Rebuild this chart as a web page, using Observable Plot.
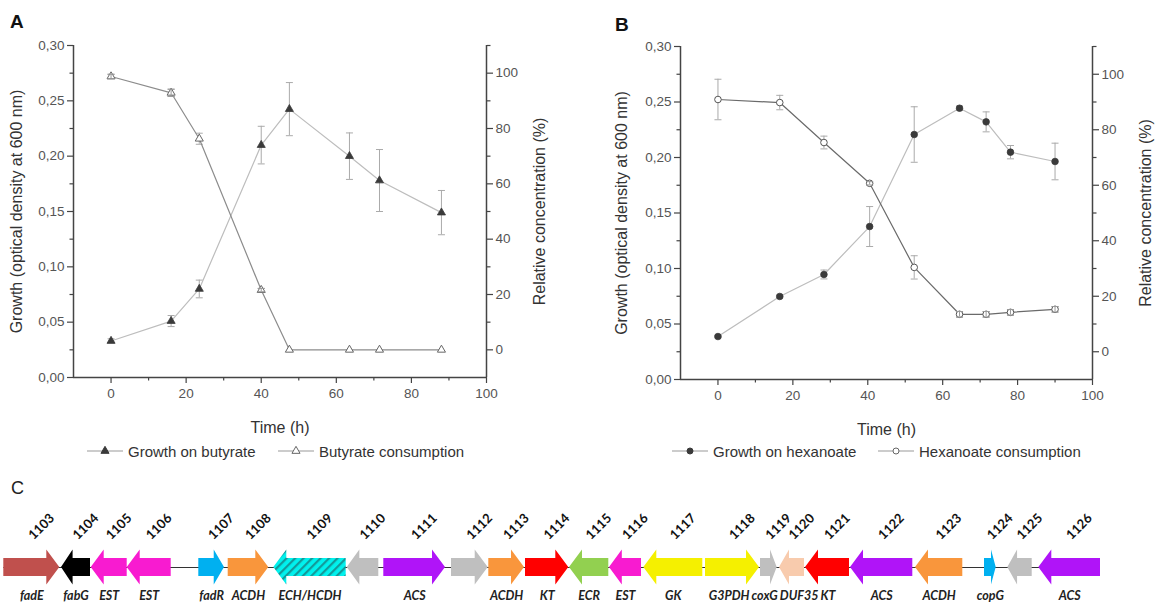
<!DOCTYPE html>
<html><head><meta charset="utf-8">
<script src="https://cdn.jsdelivr.net/npm/d3@7"></script>
<script src="https://cdn.jsdelivr.net/npm/@observablehq/plot@0.6"></script>
<style>
body{margin:0;background:#fff;}
#root{position:relative;width:1157px;height:604px;overflow:hidden;font-family:"Liberation Sans",Arial,sans-serif;background:#fff;}
.legend{position:absolute;display:flex;align-items:center;font-size:15px;color:#333;white-space:nowrap;height:18px;}
.letter{position:absolute;font-size:19px;line-height:1;color:#111;}
</style></head><body><div id="root"></div>
<script>
// ---------- Panel A data (butyrate) ----------
const timeA = [0, 16, 23.5, 40, 47.5, 63.5, 71.5, 88];
const growthA = [0.033, 0.051, 0.080, 0.210, 0.2425, 0.200, 0.178, 0.149];
const growthAErr = [0.002, 0.005, 0.008, 0.017, 0.024, 0.021, 0.028, 0.020];
const consumptionA = [98.8, 92.9, 76.3, 21.6, 0, 0, 0, 0];
const consumptionAErr = [0.8, 1.3, 2.0, 0.6, 0, 0, 0, 0];

// ---------- Panel B data (hexanoate) ----------
const timeB = [0, 16.5, 28.3, 40.5, 52.4, 64.5, 71.6, 78.1, 90];
const growthB = [0.0387, 0.0748, 0.0946, 0.1378, 0.2207, 0.2444, 0.2321, 0.2048, 0.1964];
const growthBErr = [0.001, 0.001, 0.004, 0.018, 0.025, 0.002, 0.009, 0.006, 0.0165];
const consumptionB = [90.9, 89.8, 75.4, 60.7, 30.4, 13.5, 13.5, 14.2, 15.3];
const consumptionBErr = [7.3, 2.6, 2.3, 0.6, 4.2, 1.0, 1.0, 1.0, 1.0];

// ---------- Axis ticks ----------
const leftTicks = [0, 0.05, 0.10, 0.15, 0.20, 0.25, 0.30];
const leftMinor = [0.025, 0.075, 0.125, 0.175, 0.225, 0.275];
const rightTicks = [0, 20, 40, 60, 80, 100];
const rightMinor = [10, 30, 50, 70, 90, 110];
const timeTicks = [0, 20, 40, 60, 80, 100];
const timeMinor = [10, 30, 50, 70, 90];

// ---------- Panel C data (gene cluster) ----------
const geneIds = ["1103","1104","1105","1106","1107","1108","1109","1110","1111","1112","1113","1114","1115","1116","1117","1118","1119","1120","1121","1122","1123","1124","1125","1126"];
const geneNames = ["fadE","fabG","EST","EST","fadR","ACDH","ECH/HCDH","","ACS","","ACDH","KT","ECR","EST","GK","G3PDH","coxG","DUF35","KT","ACS","ACDH","copG","","ACS"];
const geneStart = [3.3, 61, 90.7, 126.7, 198.3, 227.7, 273.3, 346.7, 383.3, 451, 488.3, 525, 569, 609, 643.3, 705, 760, 779, 805, 850, 915, 984, 1007.3, 1038.3];
const geneEnd = [59.3, 90, 126.7, 170.7, 224, 268.3, 345.7, 378.3, 445, 487.7, 524, 568.3, 608.3, 641, 702.3, 759, 776.7, 804, 849, 912.3, 962.3, 995.7, 1031.7, 1100];
const geneStrand = [1,-1,-1,-1,1,1,-1,-1,1,1,1,1,-1,-1,-1,1,1,-1,-1,-1,-1,1,-1,-1];
const functionKeys = ["fadE","fabG","EST","fadR","ACDH","ECH/HCDH","","ACS","KT","ECR","GK","G3PDH","coxG","DUF35","copG"];
const functionColors = ["#c0504d","#000000","#f81bd0","#00b0f0","#f9963c","url(#hatch)","#bfbfbf","#b014f8","#ff0000","#92d050","#f5f000","#f5f000","#bfbfbf","#f8cbad","#00b0f0"];

// ---------- helpers ----------
const root = document.getElementById("root");
const FONT = "'Liberation Sans', Arial, sans-serif";
const AX = "#444", TXT = "#555";
const fmtComma = d => d3.format(".2f")(d).replace(".", ",");
const cap = {draw(ctx, size) { const r = Math.sqrt(size / Math.PI); ctx.moveTo(-r, 0); ctx.lineTo(r, 0); }};

function errorMarks(rows, color, maxErr) {
  const d = rows.filter(r => r.e > 0 && r.e <= maxErr);
  return [
    Plot.ruleX(d, {x: "t", y1: r => r.v - r.e, y2: r => r.v + r.e, stroke: color, strokeWidth: 1}),
    Plot.dot(d, {x: "t", y: r => r.v + r.e, symbol: cap, r: 3.5, fill: "none", stroke: color, strokeWidth: 1}),
    Plot.dot(d, {x: "t", y: r => r.v - r.e, symbol: cap, r: 3.5, fill: "none", stroke: color, strokeWidth: 1})
  ];
}

function addLetter(text, left, top) {
  const d = document.createElement("div");
  d.className = "letter"; d.textContent = text;
  d.style.left = left + "px"; d.style.top = top + "px";
  root.appendChild(d);
  return d;
}

function legendItem(left, top, sym, fill, stroke, lineColor, label) {
  const div = document.createElement("div");
  div.className = "legend";
  div.style.left = left + "px"; div.style.top = top + "px";
  const path = d3.symbol(sym === "triangle" ? d3.symbolTriangle : d3.symbolCircle, Math.PI * 9)();
  div.innerHTML = `<svg width="36" height="16" style="margin-right:5px"><line x1="0" x2="36" y1="8" y2="8" stroke="${lineColor}" stroke-width="1.2"/><path transform="translate(18,8)" d="${path}" fill="${fill}" stroke="${stroke}"/></svg><span>${label}</span>`;
  root.appendChild(div);
}

function drawPanel(cfg) {
  const wrap = document.createElement("div");
  wrap.style.cssText = `position:absolute;left:${cfg.left}px;top:0;width:${cfg.width}px;height:${cfg.height}px;`;
  root.appendChild(wrap);
  const gRows = cfg.time.map((t, i) => ({t, v: cfg.growth[i], e: cfg.growthErr[i]}));
  const cRows = cfg.time.map((t, i) => ({t, v: cfg.cons[i], e: cfg.consErr[i]}));
  const common = {
    width: cfg.width, height: cfg.height,
    marginLeft: cfg.mL, marginRight: cfg.mR, marginTop: cfg.mT, marginBottom: cfg.mB,
    style: {fontFamily: FONT, fontSize: "13.5px", background: "transparent", overflow: "visible"}
  };
  const p1 = Plot.plot({
    ...common,
    x: {domain: [-10, 100]},
    y: {domain: [0, 0.30]},
    marks: [
      Plot.ruleY([0], {stroke: AX, strokeWidth: 1.5}),
      Plot.ruleX([-10], {stroke: AX, strokeWidth: 1.5}),
      Plot.ruleX([100], {stroke: AX, strokeWidth: 1.5}),
      Plot.axisY(leftTicks, {anchor: "left", tickSize: 6, tickFormat: fmtComma, label: null, stroke: AX, fill: TXT, strokeWidth: 1.2}),
      Plot.axisY(leftMinor, {anchor: "left", tickSize: 3.5, tickFormat: () => "", label: null, stroke: AX, strokeWidth: 1.2}),
      Plot.axisY([], {anchor: "left", tickSize: 0, label: "Growth (optical density at 600 nm)", labelAnchor: "center", labelArrow: "none", labelOffset: cfg.lOff, fontSize: 16, fill: "#333"}),
      Plot.axisX(timeTicks, {anchor: "bottom", tickSize: 6, tickPadding: 5, tickFormat: d3.format("d"), label: null, stroke: AX, fill: TXT, strokeWidth: 1.2}),
      Plot.axisX(timeMinor, {anchor: "bottom", tickSize: 3.5, tickFormat: () => "", label: null, stroke: AX, strokeWidth: 1.2}),
      Plot.axisX([], {anchor: "bottom", tickSize: 0, label: "Time (h)", labelAnchor: "center", labelArrow: "none", labelOffset: 55, fontSize: 16, fill: "#333"}),
      ...errorMarks(gRows, "#aaa", 1),
      Plot.line(gRows, {x: "t", y: "v", stroke: "#bdbdbd", strokeWidth: 1.2}),
      Plot.dot(gRows, {x: "t", y: "v", symbol: cfg.sym, r: cfg.r, fill: "#3a3a3a", stroke: "#3a3a3a", strokeWidth: 0.8})
    ]
  });
  p1.style.position = "absolute"; p1.style.left = "0"; p1.style.top = "0";
  wrap.appendChild(p1);
  const p2 = Plot.plot({
    ...common,
    x: {domain: [-10, 100], axis: null},
    y: {domain: [-10, 110]},
    marks: [
      Plot.axisY(rightTicks, {anchor: "right", tickSize: 6, tickFormat: d3.format("d"), label: null, stroke: AX, fill: TXT, strokeWidth: 1.2}),
      Plot.axisY(rightMinor, {anchor: "right", tickSize: 3.5, tickFormat: () => "", label: null, stroke: AX, strokeWidth: 1.2}),
      Plot.axisY([], {anchor: "right", tickSize: 0, label: "Relative concentration (%)", labelAnchor: "center", labelArrow: "none", labelOffset: cfg.rOff, fontSize: 16, fill: "#333"}),
      ...errorMarks(cRows, "#aaa", 100),
      Plot.line(cRows, {x: "t", y: "v", stroke: cfg.consLine, strokeWidth: 1.2}),
      Plot.dot(cRows, {x: "t", y: "v", symbol: cfg.sym, r: cfg.r, fill: "white", stroke: cfg.consStroke, strokeWidth: 1}),
      ...errorMarks(cRows, "#999", 1.3)
    ]
  });
  p2.style.position = "absolute"; p2.style.left = "0"; p2.style.top = "0";
  wrap.appendChild(p2);
}

// ---------- Panels A and B ----------
drawPanel({left: 0, width: 578, height: 440, mL: 73, mR: 92, mT: 45, mB: 63, lOff: 63, rOff: 58,
  time: timeA, growth: growthA, growthErr: growthAErr, cons: consumptionA, consErr: consumptionAErr,
  sym: "triangle", r: 3, consLine: "#8c8c8c", consStroke: "#666"});
drawPanel({left: 600, width: 557, height: 440, mL: 80, mR: 65, mT: 46, mB: 61, lOff: 65, rOff: 58,
  time: timeB, growth: growthB, growthErr: growthBErr, cons: consumptionB, consErr: consumptionBErr,
  sym: "circle", r: 3.3, consLine: "#6a6a6a", consStroke: "#555"});

addLetter("A", 10, 12).style.fontWeight = "bold";
addLetter("B", 615, 15).style.fontWeight = "bold";
const cl = addLetter("C", 11, 479); cl.style.fontSize = "18px"; cl.style.color = "#222";

legendItem(87, 442, "triangle", "#3a3a3a", "#3a3a3a", "#999", "Growth on butyrate");
legendItem(278, 442, "triangle", "white", "#666", "#999", "Butyrate consumption");
legendItem(672, 442, "circle", "#3a3a3a", "#3a3a3a", "#999", "Growth on hexanoate");
legendItem(878, 442, "circle", "white", "#666", "#999", "Hexanoate consumption");

// ---------- Panel C: gene arrows ----------
const NAME_FONT = "italic bold 12.5px Lato";
const measureCtx = document.createElement("canvas").getContext("2d");
measureCtx.font = NAME_FONT;
const genes = geneIds.map((id, i) => ({id, name: geneNames[i], s: geneStart[i], e: geneEnd[i], strand: geneStrand[i], mid: (geneStart[i] + geneEnd[i]) / 2}));
// dodge gene names horizontally so neighbouring labels don't collide
const named = genes.filter(g => g.name);
named.forEach(g => { g.nx = g.mid; g.w = measureCtx.measureText(g.name).width; });
for (let it = 0; it < 30; it++) {
  for (let i = 1; i < named.length; i++) {
    const a = named[i - 1], b = named[i];
    const overlap = (a.nx + a.w / 2 + 2) - (b.nx - b.w / 2);
    if (overlap > 0) { a.nx -= overlap / 2; b.nx += overlap / 2; }
  }
}
const BODY = 0.51;
const arrowPts = genes.flatMap(g => {
  const h = Math.min(13, 0.4 * (g.e - g.s));
  const k = g.name;
  return g.strand > 0
    ? [{id: g.id, k, x: g.s, lo: -BODY, hi: BODY}, {id: g.id, k, x: g.e - h, lo: -BODY, hi: BODY}, {id: g.id, k, x: g.e - h, lo: -1, hi: 1}, {id: g.id, k, x: g.e, lo: 0, hi: 0}]
    : [{id: g.id, k, x: g.s, lo: 0, hi: 0}, {id: g.id, k, x: g.s + h, lo: -1, hi: 1}, {id: g.id, k, x: g.s + h, lo: -BODY, hi: BODY}, {id: g.id, k, x: g.e, lo: -BODY, hi: BODY}];
});
const xMin = d3.min(geneStart), xMax = d3.max(geneEnd);
const hatchDefs = () => {
  const ns = "http://www.w3.org/2000/svg";
  const defs = document.createElementNS(ns, "defs");
  defs.innerHTML = `<pattern id="hatch" patternUnits="userSpaceOnUse" width="6" height="6" patternTransform="rotate(45)"><rect width="6" height="6" fill="#00f2ee"/><rect width="2.2" height="6" fill="#139a9a"/></pattern>`;
  return defs;
};
const pc = Plot.plot({
  width: 1157, height: 134, margin: 0,
  x: {domain: [0, 1157], range: [0, 1157], axis: null},
  y: {domain: [-1, 1], range: [114.5, 79.5], axis: null},
  color: {domain: functionKeys, range: functionColors},
  style: {fontFamily: "Lato, 'Open Sans', sans-serif", background: "transparent", overflow: "visible"},
  marks: [
    hatchDefs,
    Plot.ruleY([0], {x1: () => xMin, x2: () => xMax, stroke: "#333", strokeWidth: 1.2}),
    Plot.area(arrowPts, {x1: "x", y1: "lo", y2: "hi", z: "id", fill: "k", curve: "linear"}),
    Plot.text(genes, {x: d => d.mid - 1, y: 1.72, text: "id", rotate: -45, textAnchor: "start", lineAnchor: "middle", fontWeight: "bold", fontSize: 13, fill: "#111"}),
    Plot.text(named, {x: "nx", y: -1.6, text: "name", fontStyle: "italic", fontWeight: "bold", fontSize: 12.5, fill: "#222"})
  ]
});
pc.style.position = "absolute"; pc.style.left = "0"; pc.style.top = "470px";
root.appendChild(pc);
</script>
</body></html>
